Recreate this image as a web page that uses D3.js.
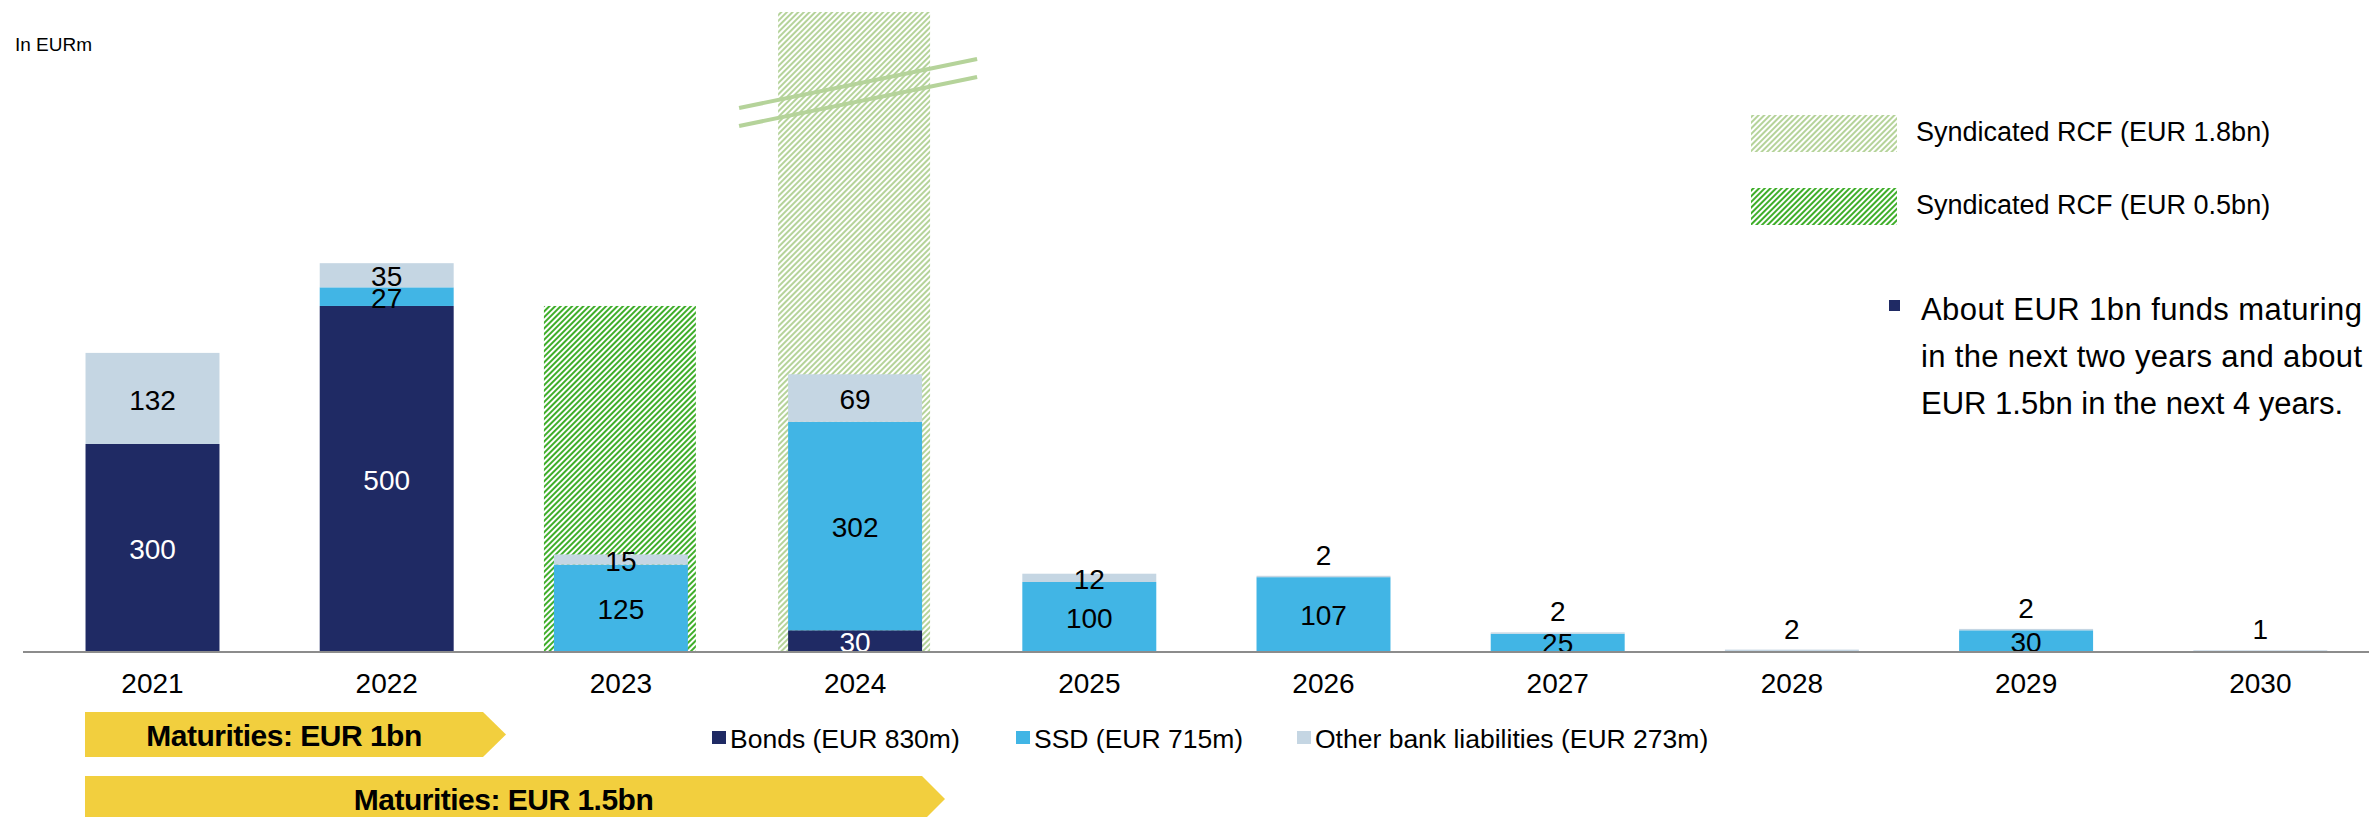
<!DOCTYPE html>
<html>
<head>
<meta charset="utf-8">
<script src="https://cdn.jsdelivr.net/npm/d3@7"></script>
<style>
  html, body { margin: 0; padding: 0; background: #fff; }
  svg text { font-family: "Liberation Sans", Arial, sans-serif; }
</style>
</head>
<body>
<svg id="chart"></svg>
<script>
const width = 2369;
const height = 817;

// data (EUR m)
const years = ["2021", "2022", "2023", "2024", "2025", "2026", "2027", "2028", "2029", "2030"];
const bonds = [300, 500, 0, 30, 0, 0, 0, 0, 0, 0];
const ssd = [0, 27, 125, 302, 100, 107, 25, 0, 30, 0];
const otherBank = [132, 35, 15, 69, 12, 2, 2, 2, 2, 1];
const rcfSmall = [0, 0, 500, 0, 0, 0, 0, 0, 0, 0];   // syndicated RCF EUR 0.5bn
const rcfLarge = [0, 0, 0, 1800, 0, 0, 0, 0, 0, 0];  // syndicated RCF EUR 1.8bn

const seriesKeys = ["bonds", "ssd", "other"];
const seriesLabels = ["Bonds (EUR 830m)", "SSD (EUR 715m)", "Other bank liabilities (EUR 273m)"];
const seriesColors = ["#1f2a64", "#41b5e5", "#c5d6e3"];
const labelColors = ["#ffffff", "#000000", "#000000"];

const rcfLabels = ["Syndicated RCF (EUR 1.8bn)", "Syndicated RCF (EUR 0.5bn)"];
const bulletLines = ["About EUR 1bn funds maturing", "in the next two years and about", "EUR 1.5bn in the next 4 years."];
const maturityLabels = ["Maturities: EUR 1bn", "Maturities: EUR 1.5bn"];

const svg = d3.select("#chart").attr("width", width).attr("height", height);

const baseY = 651;
const x = d3.scaleBand().domain(years).range([35.4, 2377.4]).paddingInner(0.428).paddingOuter(0.214);
const y = d3.scaleLinear().domain([0, 926]).range([baseY, 12]);
const bw = x.bandwidth();

// hatch patterns
const defs = svg.append("defs");
function hatch(id, color) {
    const p = defs.append("pattern")
        .attr("id", id)
        .attr("patternUnits", "userSpaceOnUse")
        .attr("width", 4).attr("height", 4)
        .attr("patternTransform", "rotate(45)");
    p.append("rect").attr("width", 4).attr("height", 4).attr("fill", "#fff");
    p.append("rect").attr("width", 2).attr("height", 4).attr("fill", color);
}
hatch("hatch-light", "#b5d39a");
hatch("hatch-dark", "#3fae2a");

const rows = years.map((yr, i) => ({ year: yr, bonds: bonds[i], ssd: ssd[i], other: otherBank[i] }));
const stacked = d3.stack().keys(seriesKeys)(rows);

// RCF bars behind the debt stacks
const rcfG = svg.append("g");
const capped = v => Math.min(v, y.domain()[1]);
rcfG.selectAll("rect.rcf-large")
    .data(years.filter((d, i) => rcfLarge[i] > 0))
    .join("rect")
    .attr("x", d => x(d) - 10)
    .attr("width", bw + 18)
    .attr("y", d => y(capped(rcfLarge[years.indexOf(d)])))
    .attr("height", d => baseY + 2 - y(capped(rcfLarge[years.indexOf(d)])))
    .attr("fill", "url(#hatch-light)");
rcfG.selectAll("rect.rcf-small")
    .data(years.filter((d, i) => rcfSmall[i] > 0))
    .join("rect")
    .attr("x", d => x(d) - 10)
    .attr("width", bw + 18)
    .attr("y", d => y(rcfSmall[years.indexOf(d)]))
    .attr("height", d => baseY + 2 - y(rcfSmall[years.indexOf(d)]))
    .attr("fill", "url(#hatch-dark)");

// break marks on the truncated bar
years.forEach((d, i) => {
    if (rcfLarge[i] > y.domain()[1]) {
        const cx = x(d) + bw / 2;
        [0, 18].forEach(off => {
            svg.append("line")
                .attr("x1", cx - 116).attr("y1", 108 + off)
                .attr("x2", cx + 122).attr("y2", 59 + off)
                .attr("stroke", "#b5d39a").attr("stroke-width", 4);
        });
    }
});

// stacked bars
const barG = svg.append("g");
stacked.forEach((s, si) => {
    barG.append("g").attr("fill", seriesColors[si])
        .selectAll("rect")
        .data(s.filter(d => d[1] - d[0] > 0))
        .join("rect")
        .attr("x", d => x(d.data.year))
        .attr("width", bw)
        .attr("y", d => y(d[1]))
        .attr("height", d => y(d[0]) - y(d[1]));
});

// data labels
const labelG = svg.append("g").attr("font-size", 28).attr("text-anchor", "middle");
stacked.forEach((s, si) => {
    s.filter(d => d[1] - d[0] > 0).forEach(d => {
        const v = d[1] - d[0];
        const cx = x(d.data.year) + bw / 2;
        const cy = v < 5 ? y(d[1]) - 21 : (y(d[0]) + y(d[1])) / 2 + 1;
        labelG.append("text")
            .attr("x", cx).attr("y", cy).attr("dy", "0.36em")
            .attr("fill", v < 5 ? "#000" : labelColors[si])
            .text(v);
    });
});

// x axis
svg.append("line")
    .attr("x1", 23).attr("x2", width)
    .attr("y1", baseY + 1).attr("y2", baseY + 1)
    .attr("stroke", "#8c8c8c").attr("stroke-width", 2);
const xAxis = svg.append("g")
    .attr("transform", `translate(0,${baseY})`)
    .call(d3.axisBottom(x).tickSize(0).tickPadding(0));
xAxis.select(".domain").remove();
xAxis.selectAll("text")
    .attr("y", 42).attr("dy", 0)
    .attr("font-size", 28)
    .attr("font-family", "Liberation Sans, Arial, sans-serif")
    .attr("fill", "#000");

// unit label
svg.append("text").attr("x", 15).attr("y", 51).attr("font-size", 19).text("In EURm");

// RCF legend
const rcfFills = ["url(#hatch-light)", "url(#hatch-dark)"];
rcfLabels.forEach((lab, i) => {
    const top = 115 + i * 73;
    svg.append("rect").attr("x", 1751).attr("y", top).attr("width", 146).attr("height", 37)
        .attr("fill", rcfFills[i]);
    svg.append("text").attr("x", 1916).attr("y", top + 26).attr("font-size", 27)
        .text(lab);
});

// bullet note
svg.append("rect").attr("x", 1889).attr("y", 300).attr("width", 11).attr("height", 11).attr("fill", "#1f2a64");
bulletLines.forEach((line, i) => {
    const t = svg.append("text").attr("x", 1921).attr("y", 320 + i * 47)
        .attr("font-size", 31).text(line);
    if (i < bulletLines.length - 1) t.attr("textLength", 441).attr("lengthAdjust", "spacing");
});

// series legend
const legendX = [712, 1016, 1297];
seriesLabels.forEach((lab, i) => {
    svg.append("rect").attr("x", legendX[i]).attr("y", 731).attr("width", 14).attr("height", 13)
        .attr("fill", seriesColors[i]);
    svg.append("text").attr("x", legendX[i] + 18).attr("y", 748).attr("font-size", 26.5).text(lab);
});

// maturity arrows
const arrows = [
    { left: 85, right: 483, top: 712, h: 45 },
    { left: 85, right: 922, top: 776, h: 46 }
];
arrows.forEach((a, i) => {
    const mid = a.top + a.h / 2;
    svg.append("polygon")
        .attr("points", [[a.left, a.top], [a.right, a.top], [a.right + 23, mid], [a.right, a.top + a.h], [a.left, a.top + a.h]].join(" "))
        .attr("fill", "#f2cf3e");
    svg.append("text")
        .attr("x", (a.left + a.right) / 2).attr("y", mid + 11)
        .attr("text-anchor", "middle").attr("font-size", 30).attr("font-weight", "bold")
        .attr("letter-spacing", -0.5)
        .text(maturityLabels[i]);
});
</script>
</body>
</html>
